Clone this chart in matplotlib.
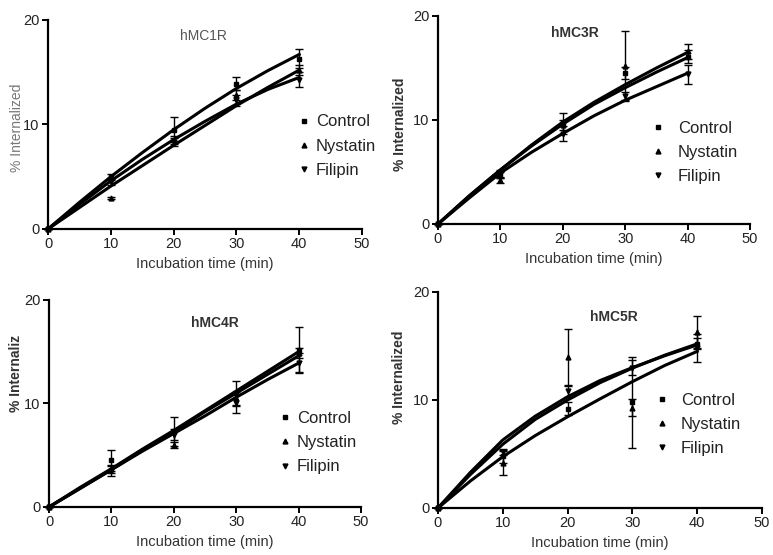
import matplotlib
matplotlib.use("Agg")
import matplotlib.pyplot as plt
from matplotlib.lines import Line2D

plt.rcParams['font.family'] = ['Liberation Sans', 'DejaVu Sans']

# Datos: tiempos de incubación y % internalizado
t_points = [0, 10, 20, 30, 40]
t_curve = [0, 5, 10, 15, 20, 25, 30, 35, 40]
treatments = ["Control", "Nystatin", "Filipin"]
markers = ["s", "^", "v"]

# hMC1R
mc1_mean = {"Control": [0, 5.0, 9.5, 13.9, 16.3],
            "Nystatin": [0, 3.0, 8.5, 12.8, 15.2],
            "Filipin": [0, 4.5, 8.3, 12.3, 14.3]}
mc1_err = {"Control": [0, 0.3, 1.2, 0.6, 0.9],
           "Nystatin": [0, 0.1, 0.4, 0.5, 0.5],
           "Filipin": [0, 0.3, 0.4, 0.5, 0.7]}
mc1_fit = {"Control": [0, 2.55, 5.0, 7.3, 9.5, 11.55, 13.45, 15.15, 16.7],
           "Nystatin": [0, 2.05, 4.1, 6.05, 8.0, 9.9, 11.8, 13.55, 15.2],
           "Filipin": [0, 2.35, 4.6, 6.65, 8.55, 10.3, 11.95, 13.35, 14.5]}

# hMC3R
mc3_mean = {"Control": [0, 4.8, 9.7, 14.5, 16.1],
            "Nystatin": [0, 4.2, 9.5, 15.2, 16.6],
            "Filipin": [0, 4.7, 8.7, 12.3, 14.4]}
mc3_err = {"Control": [0, 0.4, 1.0, 0.6, 0.6],
           "Nystatin": [0, 0.3, 0.5, 3.4, 0.7],
           "Filipin": [0, 0.3, 0.7, 0.4, 0.9]}
mc3_fit = {"Control": [0, 2.7, 5.2, 7.5, 9.6, 11.5, 13.1, 14.6, 16.0],
           "Nystatin": [0, 2.7, 5.2, 7.6, 9.8, 11.7, 13.4, 15.0, 16.5],
           "Filipin": [0, 2.5, 4.9, 6.9, 8.7, 10.4, 11.9, 13.2, 14.5]}

# hMC4R
mc4_mean = {"Control": [0, 4.5, 7.3, 11.0, 15.2],
            "Nystatin": [0, 3.7, 6.0, 10.5, 14.9],
            "Filipin": [0, 3.5, 7.0, 10.0, 13.9]}
mc4_err = {"Control": [0, 1.0, 1.4, 1.2, 2.2],
           "Nystatin": [0, 0.4, 0.3, 0.6, 0.5],
           "Filipin": [0, 0.5, 0.5, 0.9, 1.0]}
mc4_fit = {"Control": [0, 1.9, 3.7, 5.6, 7.4, 9.3, 11.2, 13.1, 15.0],
           "Nystatin": [0, 1.8, 3.6, 5.5, 7.3, 9.2, 11.0, 12.8, 14.6],
           "Filipin": [0, 1.8, 3.6, 5.4, 7.1, 8.8, 10.6, 12.3, 13.9]}

# hMC5R
mc5_mean = {"Control": [0, 4.8, 9.2, 9.8, 15.2],
            "Nystatin": [0, 4.2, 14.0, 9.3, 16.3],
            "Filipin": [0, 5.2, 10.8, 13.0, 14.8]}
mc5_err = {"Control": [0, 0.6, 0.6, 4.2, 0.5],
           "Nystatin": [0, 1.1, 2.6, 0.8, 1.5],
           "Filipin": [0, 0.3, 0.5, 0.7, 1.3]}
mc5_fit = {"Control": [0, 2.5, 4.75, 6.7, 8.45, 10.1, 11.7, 13.2, 14.5],
           "Nystatin": [0, 3.3, 6.3, 8.5, 10.3, 11.8, 13.0, 14.1, 15.1],
           "Filipin": [0, 3.1, 5.9, 8.2, 10.0, 11.6, 12.95, 14.15, 15.2]}

panels = [
    dict(rect=[0.0621, 0.5874, 0.4062, 0.3766], title="hMC1R", tpos=(0.494, 0.923),
         ylabel="% Internalized", ypos=(0.022, 0.770), bold=False,
         mean=mc1_mean, err=mc1_err, fit=mc1_fit, leg=(0.794, 0.397), tpad=0.32),
    dict(rect=[0.5666, 0.5964, 0.4036, 0.3748], title="hMC3R", tpos=(0.439, 0.918),
         ylabel="% Internalized", ypos=(0.518, 0.777), bold=True,
         mean=mc3_mean, err=mc3_err, fit=mc3_fit, leg=(0.684, 0.345), tpad=0.8),
    dict(rect=[0.0634, 0.0865, 0.4036, 0.3730], title="hMC4R", tpos=(0.532, 0.889),
         ylabel="% Internaliz", ypos=(0.021, 0.328), bold=True,
         mean=mc4_mean, err=mc4_err, fit=mc4_fit, leg=(0.735, 0.31), tpad=0.32),
    dict(rect=[0.5666, 0.0847, 0.4192, 0.3892], title="hMC5R", tpos=(0.543, 0.884),
         ylabel="% Internalized", ypos=(0.516, 0.320), bold=True,
         mean=mc5_mean, err=mc5_err, fit=mc5_fit, leg=(0.671, 0.388), tpad=0.74),
]

fig = plt.figure(figsize=(7.73, 5.55), dpi=100)

for p in panels:
    ax = fig.add_axes(p["rect"])
    for name, mk in zip(treatments, markers):
        ax.plot(t_curve, p["fit"][name], color="black", lw=2.2, clip_on=False, zorder=3)
        ax.errorbar(t_points, p["mean"][name], yerr=p["err"][name], fmt=mk, ms=3.5,
                    color="black", ecolor="black", elinewidth=1, capsize=3,
                    clip_on=False, zorder=4)
    ax.set_xlim(0, 50)
    ax.set_ylim(0, 20)
    ax.set_xticks([0, 10, 20, 30, 40, 50])
    ax.set_yticks([0, 10, 20])
    for s in ["top", "right"]:
        ax.spines[s].set_visible(False)
    for s in ["left", "bottom"]:
        ax.spines[s].set_linewidth(1.6)
    ax.tick_params(direction="out", length=4, width=1.4, labelsize=10.5, pad=2,
                   colors="black", labelcolor="#222222")
    weight = "bold" if p["bold"] else "normal"
    tcolor = "#333333" if p["bold"] else "#555555"
    ycolor = "#333333" if p["bold"] else "#777777"
    ax.set_xlabel("Incubation time (min)", fontsize=10.5, color="#333333", labelpad=4)
    ax.text(p["tpos"][0], p["tpos"][1], p["title"], transform=ax.transAxes,
            ha="center", va="center", fontsize=10, fontweight=weight, color=tcolor)
    fig.text(p["ypos"][0], p["ypos"][1], p["ylabel"], rotation=90, ha="center",
             va="center", fontsize=10, fontweight=weight, color=ycolor)
    handles = [Line2D([], [], ls="none", marker=mk, ms=3.5, color="black")
               for mk in markers]
    ax.legend(handles, treatments, loc="center left", bbox_to_anchor=p["leg"],
              frameon=False, fontsize=12, handlelength=0.8, handletextpad=p["tpad"],
              labelspacing=0.55, borderpad=0, borderaxespad=0, labelcolor="#222222")

fig.savefig("out.png", dpi=100)
